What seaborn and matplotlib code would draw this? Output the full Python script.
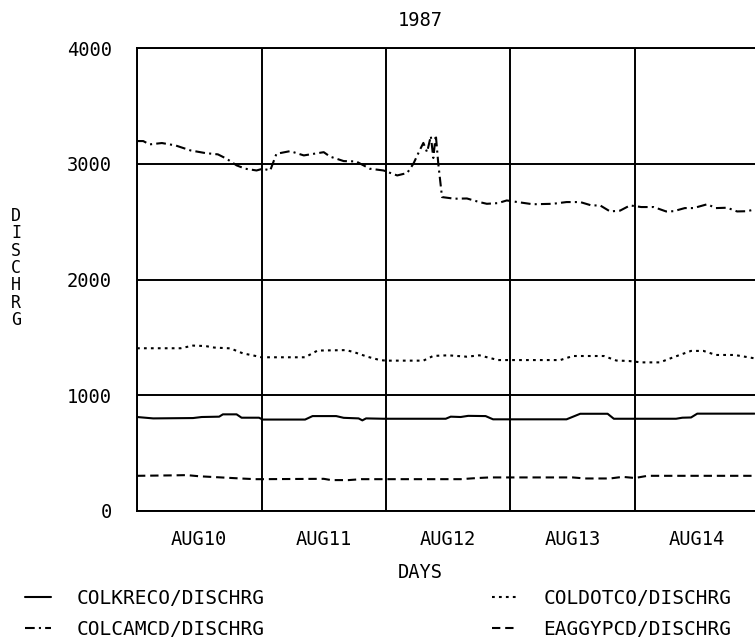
import numpy as np
import pandas as pd
import matplotlib
matplotlib.use("Agg")
import matplotlib.pyplot as plt
import seaborn as sns

# ---- data (days since AUG10 00:00, discharge) ----
kreco_day = [0.0, 0.13, 0.45, 0.52, 0.66, 0.69, 0.80, 0.84, 0.98, 1.01, 1.35, 1.41, 1.60, 1.66, 1.78,
             1.81, 1.84, 1.98, 2.48, 2.52, 2.60, 2.66, 2.80, 2.86, 3.45, 3.56, 3.78, 3.83, 4.33, 4.38,
             4.45, 4.50, 4.96]
kreco_val = [812, 800, 803, 812, 815, 835, 835, 806, 806, 790, 790, 820, 820, 805, 800,
             783, 800, 797, 797, 815, 812, 822, 820, 792, 792, 840, 840, 797, 797, 806,
             808, 841, 841]

camcd_day = [0.0, 0.05, 0.10, 0.20, 0.31, 0.43, 0.55, 0.65, 0.72, 0.80, 0.87, 0.96, 1.01, 1.07, 1.12,
             1.23, 1.34, 1.50, 1.55, 1.66, 1.76, 1.87, 1.98, 2.09, 2.17, 2.22, 2.27, 2.30, 2.33, 2.36,
             2.38, 2.40, 2.42, 2.45, 2.55, 2.65, 2.75, 2.81, 2.90, 2.97, 3.05, 3.18, 3.34, 3.45, 3.56,
             3.65, 3.72, 3.80, 3.88, 3.96, 4.05, 4.15, 4.25, 4.31, 4.40, 4.47, 4.58, 4.65, 4.74, 4.82,
             4.90, 4.96]
camcd_val = [3196, 3196, 3167, 3179, 3158, 3115, 3092, 3081, 3043, 2986, 2957, 2942, 2957, 2942, 3086,
             3109, 3072, 3100, 3062, 3023, 3020, 2957, 2942, 2899, 2920, 3000, 3115, 3180, 3100, 3240,
             3050, 3250, 3000, 2712, 2698, 2700, 2669, 2654, 2660, 2683, 2670, 2650, 2654, 2669, 2669,
             2640, 2640, 2588, 2595, 2640, 2626, 2626, 2588, 2590, 2617, 2617, 2650, 2617, 2620, 2588,
             2590, 2605]

dotco_day = [0.0, 0.35, 0.45, 0.55, 0.62, 0.75, 0.85, 0.95, 1.0, 1.35, 1.45, 1.68, 1.75, 1.85, 1.95,
             2.0, 2.3, 2.38, 2.5, 2.65, 2.75, 2.9, 3.4, 3.5, 3.75, 3.85, 3.95, 4.05, 4.2, 4.3,
             4.45, 4.55, 4.65, 4.8, 4.96]
dotco_val = [1406, 1406, 1429, 1425, 1412, 1405, 1362, 1340, 1328, 1328, 1386, 1390, 1370, 1333, 1304,
             1299, 1299, 1340, 1345, 1333, 1345, 1304, 1304, 1339, 1339, 1300, 1296, 1284, 1284, 1325,
             1383, 1383, 1348, 1348, 1319]

eaggy_day = [0.0, 0.3, 0.4, 0.5, 0.85, 0.95, 1.0, 1.5, 1.56, 1.7, 1.8, 2.6, 2.72, 2.83, 3.5,
             3.6, 3.8, 3.9, 4.0, 4.1, 4.96]
eaggy_val = [304, 308, 310, 300, 280, 275, 275, 278, 267, 267, 275, 275, 284, 290, 290,
             281, 281, 295, 285, 304, 304]

series_names = ["COLKRECO/DISCHRG", "COLCAMCD/DISCHRG", "COLDOTCO/DISCHRG", "EAGGYPCD/DISCHRG"]
day_labels = ["AUG10", "AUG11", "AUG12", "AUG13", "AUG14"]
y_ticks = [0, 1000, 2000, 3000, 4000]
title = "1987"

# ---- style ----
sns.set_style("white")
plt.rcParams["font.family"] = ["DejaVu Sans Mono", "DejaVu Sans"]
plt.rcParams["lines.scale_dashes"] = False
plt.rcParams["text.color"] = "black"
plt.rcParams["xtick.color"] = "black"
plt.rcParams["ytick.color"] = "black"

W, H = 755, 638
fig = plt.figure(figsize=(W / 100, H / 100), dpi=100)
ax_left, ax_right_px, ax_top, ax_bot = 137, 755, 48, 511
ax = fig.add_axes([ax_left / W, 1 - ax_bot / H, (ax_right_px - ax_left) / W, (ax_bot - ax_top) / H])

styles = [
    "-",
    (0, (7, 3, 1.5, 3)),
    (0, (2, 3)),
    (0, (6, 3.5)),
]
data = [(kreco_day, kreco_val), (camcd_day, camcd_val), (dotco_day, dotco_val), (eaggy_day, eaggy_val)]
for name, (d, v), ls in zip(series_names, data, styles):
    df = pd.DataFrame({"hour": np.array(d) * 24, "val": v})
    sns.lineplot(data=df, x="hour", y="val", ax=ax, color="black", linewidth=1.5,
                 linestyle=ls, label=name, legend=False)

xmax = (ax_right_px - ax_left) / 124.5 * 24
ax.set_xlim(0, xmax)
ax.set_ylim(0, 4000)

ax.set_xticks([0, 24, 48, 72, 96])
ax.set_xticks([12, 36, 60, 84, 108], minor=True)
ax.set_xticklabels([])
ax.set_xticklabels(day_labels, minor=True)
ax.set_yticks(y_ticks)
ax.set_yticklabels([str(t) for t in y_ticks])

ax.tick_params(axis="x", which="major", direction="inout", length=14, width=1.4, color="black")
ax.tick_params(axis="x", which="minor", length=0, pad=14, labelsize=13.5)
ax.tick_params(axis="y", direction="inout", length=12, width=1.4, color="black", pad=12, labelsize=13.5)

ax.grid(True, which="major", color="black", linewidth=1.4)
for s in ["left", "bottom", "top"]:
    ax.spines[s].set_color("black")
    ax.spines[s].set_linewidth(1.4)
ax.spines["right"].set_visible(False)
ax.set_xlabel("")
ax.set_ylabel("")

fig.text(420 / W, 1 - 20 / H, title, ha="center", va="center", fontsize=13.5)
fig.text(420 / W, 1 - 573 / H, "DAYS", ha="center", va="center", fontsize=13.5)
fig.text(16 / W, 1 - 268 / H, "\n".join("DISCHRG"), ha="center", va="center",
         fontsize=12, linespacing=0.95)

handles = ax.get_lines()[:4]
fig.legend(handles, series_names, loc="upper left", bbox_to_anchor=(25 / W, 1 - 589 / H),
           ncol=2, frameon=False, fontsize=14, handlelength=1.35, handletextpad=1.3,
           columnspacing=11.7, labelspacing=0.6, borderpad=0, borderaxespad=0)

fig.savefig("out.png", dpi=100)
